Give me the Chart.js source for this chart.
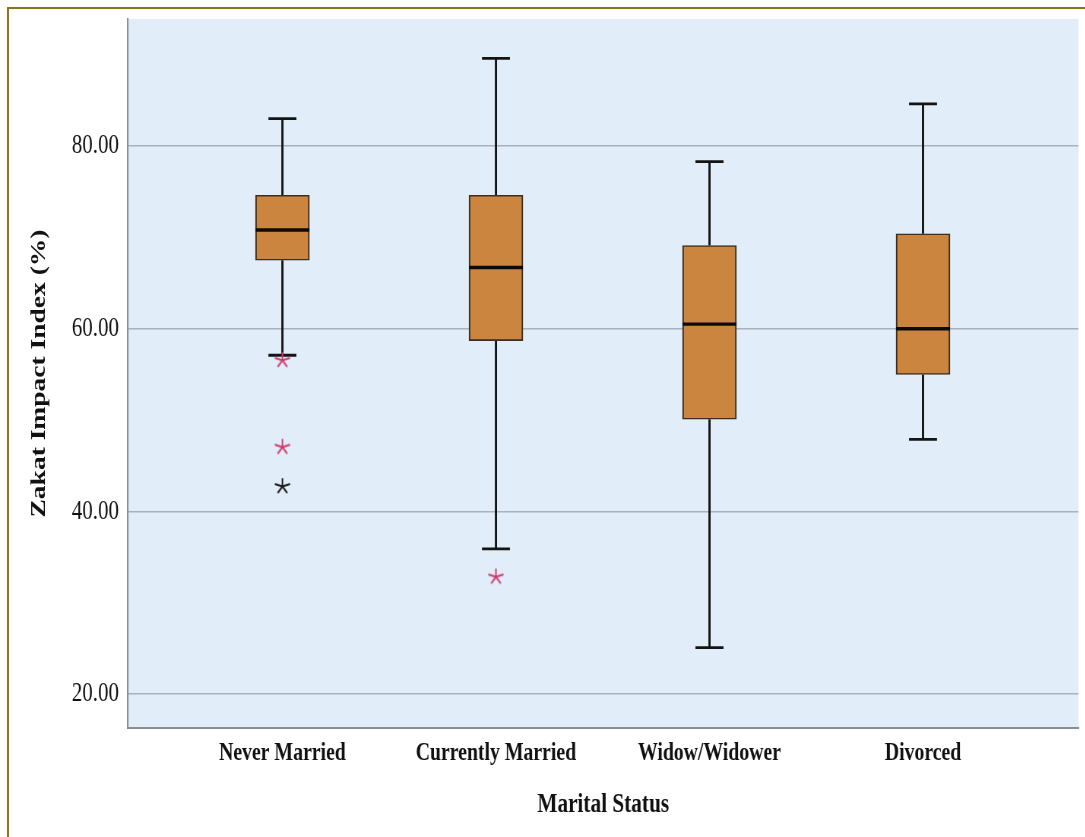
<!DOCTYPE html>
<html>
<head>
<meta charset="utf-8">
<script src="https://cdn.jsdelivr.net/npm/chart.js@4.4.1/dist/chart.umd.min.js"></script>
<style>
  html, body { margin: 0; padding: 0; background: #ffffff; overflow: hidden; }
  body { width: 1085px; height: 837px; position: relative; }
  /* the figure is set in a narrow serif: the canvas is drawn wide and squeezed horizontally */
  #wrap { position: absolute; left: 0; top: 0; width: 1428px; height: 837px;
          transform: scaleX(0.76); transform-origin: 0 0; }
  #frame { position: absolute; left: 7px; top: 7px; width: 1100px; height: 850px;
           border-top: 2px solid #8e7519; border-left: 2px solid #8e7519; pointer-events: none; }
</style>
</head>
<body>
<div id="wrap"><canvas id="chart" width="1428" height="837"></canvas></div>
<div id="frame"></div>
<script>
// Zakat Impact Index (%) by marital status – box plot summary
const categories  = ['Never Married', 'Currently Married', 'Widow/Widower', 'Divorced'];
const whiskerLow  = [57.1, 35.9, 25.1, 47.9];
const q1          = [67.5, 58.7, 50.1, 55.0];
const median      = [70.8, 66.7, 60.5, 60.0];
const q3          = [74.6, 74.6, 69.1, 70.4];
const whiskerHigh = [83.0, 89.6, 78.3, 84.6];
// outlying cases: [category index, value]
const outliersRed   = [[0, 56.6], [0, 47.1], [1, 32.9]];
const outliersBlack = [[0, 42.8]];
const yTicks = [20, 40, 60, 80];

const SQX = 0.76;                // horizontal squeeze applied to the canvas
const FONT = "'Liberation Serif', 'Times New Roman', serif";

// asterisk marker, pre-stretched so it looks round after the squeeze
function asterisk(color) {
  const h = 18, w = Math.round(18 / SQX);
  const c = document.createElement('canvas');
  c.width = w; c.height = h;
  const g = c.getContext('2d');
  g.strokeStyle = color; g.lineWidth = 2; g.lineCap = 'round';
  const cx = w / 2, cy = h / 2 + 0.5, r = 7.4;
  for (let k = 0; k < 5; k++) {
    const a = -Math.PI / 2 + k * 2 * Math.PI / 5;
    g.beginPath();
    g.moveTo(cx, cy);
    g.lineTo(cx + Math.cos(a) * r / SQX, cy + Math.sin(a) * r);
    g.stroke();
  }
  return c;
}

const plotBackground = {
  id: 'plotBackground',
  beforeDraw(chart) {
    const { ctx, chartArea: a } = chart;
    ctx.save();
    ctx.fillStyle = '#e1edf9';
    ctx.fillRect(a.left, a.top, a.right - a.left, a.bottom - a.top);
    ctx.restore();
  }
};

// whiskers, caps and median lines placed through the chart scales
const boxParts = {
  id: 'boxParts',
  beforeDatasetsDraw(chart) {
    const { ctx, scales: { x, y } } = chart;
    const capHalf = 14 / SQX;
    ctx.save();
    ctx.strokeStyle = '#141414';
    ctx.lineCap = 'butt';
    categories.forEach((_, i) => {
      const cx = x.getPixelForValue(i);
      const yHi = y.getPixelForValue(whiskerHigh[i]);
      const yLo = y.getPixelForValue(whiskerLow[i]);
      ctx.lineWidth = 2.2 / SQX;
      ctx.beginPath();
      ctx.moveTo(cx, yHi); ctx.lineTo(cx, y.getPixelForValue(q3[i]));
      ctx.moveTo(cx, y.getPixelForValue(q1[i])); ctx.lineTo(cx, yLo);
      ctx.stroke();
      ctx.lineWidth = 2.8;
      ctx.beginPath();
      ctx.moveTo(cx - capHalf, yHi); ctx.lineTo(cx + capHalf, yHi);
      ctx.moveTo(cx - capHalf, yLo); ctx.lineTo(cx + capHalf, yLo);
      ctx.stroke();
    });
    ctx.restore();
  },
  afterDatasetsDraw(chart) {
    const { ctx, scales: { x, y } } = chart;
    const half = 27 / SQX;
    ctx.save();
    ctx.strokeStyle = '#0d0b08';
    ctx.lineWidth = 3.4;
    categories.forEach((_, i) => {
      const cx = x.getPixelForValue(i);
      const ym = y.getPixelForValue(median[i]);
      ctx.beginPath();
      ctx.moveTo(cx - half, ym); ctx.lineTo(cx + half, ym);
      ctx.stroke();
    });
    ctx.restore();
  }
};

new Chart(document.getElementById('chart'), {
  type: 'bar',
  data: {
    datasets: [
      {
        type: 'scatter',
        label: 'Outliers',
        data: outliersRed.map(([i, v]) => ({ x: i, y: v })),
        pointStyle: asterisk('#d23c6a'),
        pointRadius: 8,
        order: 0
      },
      {
        type: 'scatter',
        label: 'Extreme',
        data: outliersBlack.map(([i, v]) => ({ x: i, y: v })),
        pointStyle: asterisk('#1a1a1a'),
        pointRadius: 8,
        order: 0
      },
      {
        label: 'Interquartile range',
        data: categories.map((_, i) => ({ x: i, y: [q1[i], q3[i]] })),
        backgroundColor: '#cc853f',
        borderColor: '#3a2e22',
        borderWidth: { left: 1.6 / SQX, right: 1.6 / SQX, top: 1.6, bottom: 1.6 },
        borderSkipped: false,
        barThickness: 54 / SQX,
        order: 1
      }
    ]
  },
  options: {
    responsive: false,
    animation: false,
    devicePixelRatio: 1,
    layout: { padding: { top: 19, right: 2.5, bottom: 0, left: 0 } },
    plugins: { legend: { display: false }, tooltip: { enabled: false } },
    scales: {
      x: {
        type: 'linear',
        offset: false,
        min: -0.7232,
        max: 3.7279,
        afterBuildTicks: s => { s.ticks = categories.map((_, i) => ({ value: i })); },
        afterFit: s => { s.height = 109; s.paddingLeft = 0; s.paddingRight = 0; },
        grid: { display: false, drawTicks: false, offset: false },
        border: { display: true, color: '#8a8e94', width: 2 },
        ticks: {
          autoSkip: false, maxRotation: 0, padding: 10,
          color: '#111111',
          font: { family: FONT, size: 26, weight: 'bold' },
          callback: v => categories[v]
        },
        title: {
          display: true, text: 'Marital Status', color: '#111111',
          font: { family: FONT, size: 28, weight: 'bold' },
          padding: { top: 0, bottom: 15.3 }
        }
      },
      y: {
        min: 16.3,
        max: 93.9,
        afterBuildTicks: s => { s.ticks = yTicks.map(v => ({ value: v })); },
        afterFit: s => { s.width = 168.4; s.paddingTop = 0; s.paddingBottom = 0; },
        grid: { color: '#a9b1bb', lineWidth: 1.5, drawTicks: false },
        border: { display: true, color: '#8a8e94', width: 1.6 / SQX },
        ticks: {
          padding: 12, color: '#111111',
          font: { family: FONT, size: 27.5 },
          callback: v => v.toFixed(2)
        },
        title: {
          display: true, text: 'Zakat Impact Index (%)', color: '#111111',
          font: { family: FONT, size: 27.5, weight: 'bold' },
          padding: { top: 35, bottom: 0 }
        }
      }
    }
  },
  plugins: [plotBackground, boxParts]
});
</script>
</body>
</html>
